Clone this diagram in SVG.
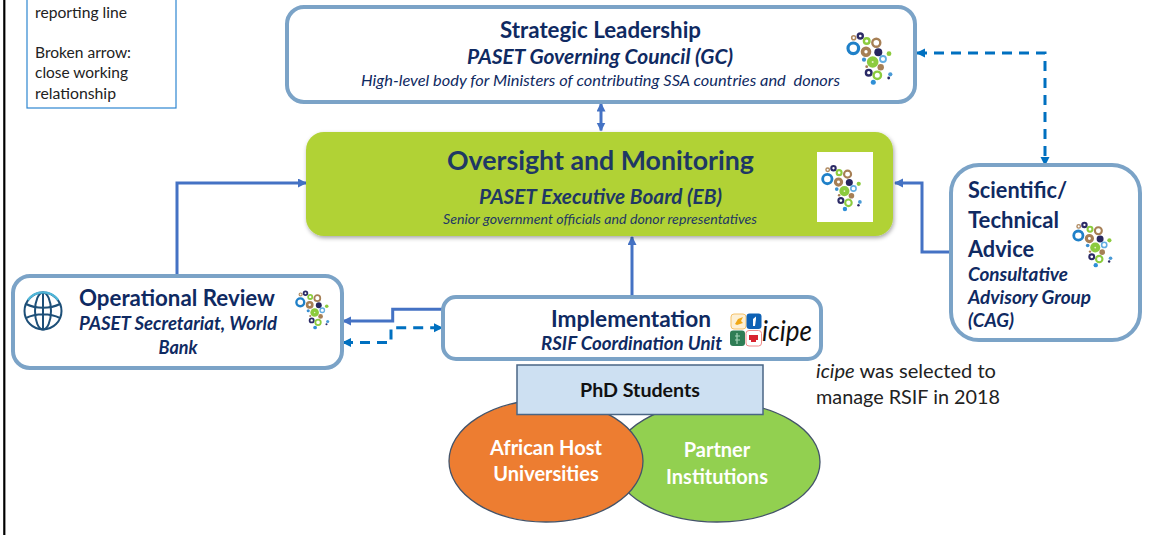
<svg xmlns="http://www.w3.org/2000/svg" xmlns:xlink="http://www.w3.org/1999/xlink" width="1149" height="535" viewBox="0 0 1149 535">
<style>
text{font-family:"Lato","Carlito","Liberation Sans",sans-serif}
.box{fill:#fff;stroke:#7ba3c7;stroke-width:4}
.n{fill:#0f2a62}
.e{fill:#1f3864}
.b{font-weight:700}
.i{font-style:italic}
.m{text-anchor:middle}
.k{fill:#222}
.w{fill:#fff;font-weight:700;text-anchor:middle;font-size:20px}
.s{fill:none;stroke:#4472c4;stroke-width:3}
.d{fill:none;stroke:#0070c0;stroke-width:3;stroke-dasharray:10 7}
.o{stroke:#44546a;stroke-width:1.300}
</style>
<defs>
<marker id="as" markerWidth="11" markerHeight="11" refX="8" refY="4.500" orient="auto-start-reverse" markerUnits="userSpaceOnUse"><path d="M0 0L9 4.500L0 9Z" fill="#4472c4"/></marker>
<marker id="ad" markerWidth="11" markerHeight="11" refX="8" refY="4.500" orient="auto-start-reverse" markerUnits="userSpaceOnUse"><path d="M0 0L9 4.500L0 9Z" fill="#0070c0"/></marker>
<filter id="sh" x="-5%" y="-5%" width="110%" height="115%"><feDropShadow dx="1" dy="2" stdDeviation="2" flood-color="#000" flood-opacity=".35"/></filter>
<g id="logo">
<circle cx="7.300" cy="15.300" r="5.300" fill="none" stroke="#1f80c8" stroke-width="3.200"/>
<circle cx="7.700" cy="4.700" r="2" fill="none" stroke="#b08a60" stroke-width="1.600"/>
<circle cx="14.300" cy="3" r="2.500" fill="none" stroke="#2b2a66" stroke-width="2.400"/>
<circle cx="20.700" cy="8" r="2.800" fill="none" stroke="#8ccb3e" stroke-width="2.400"/>
<circle cx="30.300" cy="9.700" r="4" fill="none" stroke="#a67f55" stroke-width="2.400"/>
<circle cx="20" cy="18.700" r="3.500" fill="none" stroke="#a67f55" stroke-width="3.600"/>
<circle cx="32.300" cy="19.300" r="4" fill="#26265f"/>
<circle cx="43" cy="20.700" r="2.400" fill="#8ccb3e"/>
<circle cx="18" cy="26.700" r="2.100" fill="#3b8fd0"/>
<circle cx="26.700" cy="29" r="5.800" fill="#8ccb3e"/>
<circle cx="26.700" cy="29" r="1" fill="#e4f2c8"/>
<circle cx="37" cy="26" r="3" fill="none" stroke="#62ade2" stroke-width="1.800"/>
<circle cx="20.700" cy="33.700" r="1.400" fill="#a67f55"/>
<circle cx="34.700" cy="34.300" r="3.200" fill="#a67f55"/>
<circle cx="22.700" cy="39.700" r="2.800" fill="none" stroke="#2b2a66" stroke-width="2.400"/>
<circle cx="31.300" cy="42.300" r="3.700" fill="none" stroke="#8ccb3e" stroke-width="2.400"/>
<circle cx="44.300" cy="41.300" r="2.100" fill="#4a9ad6"/>
<circle cx="42.700" cy="45" r="1.400" fill="#2b2a66"/>
<circle cx="27.300" cy="49.300" r="2.500" fill="#2f8fd6"/>
</g>
</defs>

<rect width="1149" height="535" fill="#fff"/>
<path d="M4.300 0V535" stroke="#000" stroke-width="2.200"/>

<g id="legend">
<rect x="27" y="-5" width="149" height="113" fill="#fff" stroke="#2e86d0" stroke-width="1.200"/>
<text class="k" x="35" y="18" font-size="15.500" textLength="92" lengthAdjust="spacingAndGlyphs">reporting line</text>
<text class="k" x="35" y="58" font-size="15.500" textLength="96" lengthAdjust="spacingAndGlyphs">Broken arrow:</text>
<text class="k" x="35" y="78" font-size="15.500" textLength="93" lengthAdjust="spacingAndGlyphs">close working</text>
<text class="k" x="35" y="99" font-size="15.500" textLength="81" lengthAdjust="spacingAndGlyphs">relationship</text>
</g>

<g id="connectors">
<path class="s" d="M601 103.500V130.500" marker-start="url(#as)" marker-end="url(#as)"/>
<path class="s" d="M177 275V183H306" marker-end="url(#as)"/>
<path class="s" d="M632 296V237" marker-end="url(#as)"/>
<path class="s" d="M951 252H922V183H895" marker-end="url(#as)"/>
<path class="s" d="M443 309.300H392.700V321H343" marker-end="url(#as)"/>
<path class="d" d="M917 53H1045V165" marker-start="url(#ad)" marker-end="url(#ad)"/>
<path class="d" d="M343 342.500H391V327.700H442" marker-start="url(#ad)" marker-end="url(#ad)"/>
</g>

<g id="node-gc">
<rect class="box" x="287" y="7" width="628" height="95" rx="17"/>
<text class="n b m" x="600.500" y="38" font-size="22.500" textLength="201" lengthAdjust="spacingAndGlyphs">Strategic Leadership</text>
<text class="n b i m" x="600" y="64" font-size="20.500" textLength="266" lengthAdjust="spacingAndGlyphs">PASET Governing Council (GC)</text>
<text class="n i m" x="600.500" y="86" font-size="16" textLength="479" lengthAdjust="spacingAndGlyphs" xml:space="preserve">High-level body for Ministers of contributing SSA countries and  donors</text>
<use href="#logo" xlink:href="#logo" x="846" y="33"/>
</g>

<g id="node-eb">
<rect x="306" y="132" width="587" height="104" rx="18" fill="#b1d235" filter="url(#sh)"/>
<text class="e b m" x="600.500" y="170" font-size="26.800" textLength="307" lengthAdjust="spacingAndGlyphs">Oversight and Monitoring</text>
<text class="e b i m" x="600.500" y="204" font-size="20.500" textLength="243" lengthAdjust="spacingAndGlyphs">PASET Executive Board (EB)</text>
<text class="e i m" x="600" y="224" font-size="14" textLength="314" lengthAdjust="spacingAndGlyphs">Senior government officials and donor representatives</text>
<rect x="817" y="152" width="56" height="70" fill="#fff"/>
<use href="#logo" xlink:href="#logo" transform="translate(820.900 165.600) scale(.88)"/>
</g>

<g id="node-cag">
<rect class="box" x="951" y="165" width="189" height="175" rx="28"/>
<text class="n b" x="968" y="198" font-size="22.500" textLength="99" lengthAdjust="spacingAndGlyphs">Scientific/</text>
<text class="n b" x="968" y="228" font-size="22.500" textLength="91" lengthAdjust="spacingAndGlyphs">Technical</text>
<text class="n b" x="968" y="257" font-size="22.500" textLength="66" lengthAdjust="spacingAndGlyphs">Advice</text>
<text class="n b i" x="968" y="281" font-size="18.500" textLength="100" lengthAdjust="spacingAndGlyphs">Consultative</text>
<text class="n b i" x="968" y="304" font-size="18.500" textLength="123" lengthAdjust="spacingAndGlyphs">Advisory Group</text>
<text class="n b i" x="968" y="327" font-size="18.500" textLength="46" lengthAdjust="spacingAndGlyphs">(CAG)</text>
<use href="#logo" xlink:href="#logo" transform="translate(1072 222.300) scale(.87)"/>
</g>

<g id="node-secretariat">
<rect class="box" x="13" y="276" width="329" height="92" rx="17"/>
<text class="n b m" x="177" y="306" font-size="22" textLength="196" lengthAdjust="spacingAndGlyphs">Operational Review</text>
<text class="n b i m" x="178" y="330" font-size="18.500" textLength="198" lengthAdjust="spacingAndGlyphs">PASET Secretariat, World</text>
<text class="n b i m" x="178" y="354" font-size="18.500" textLength="39" lengthAdjust="spacingAndGlyphs">Bank</text>
<use href="#logo" xlink:href="#logo" transform="translate(294.900 291) scale(.74)"/>
<g fill="none" stroke="#1d4f78" stroke-width="2">
<circle cx="43" cy="311" r="18.500"/>
<ellipse cx="43" cy="311" rx="8" ry="18.500"/>
<path d="M43 292.500V329.500M26 304C36 309 50 309 60 304M26 318C36 313 50 313 60 318"/>
</g>
<path d="M28 300A18.500 18.500 0 0 1 58 300" fill="none" stroke="#4fb6d8" stroke-width="2.400"/>
</g>

<g id="node-rsif">
<rect class="box" x="443" y="297" width="378" height="62" rx="13"/>
<text class="n b m" x="631" y="327" font-size="22.500" textLength="160" lengthAdjust="spacingAndGlyphs">Implementation</text>
<text class="n b i m" x="631.500" y="350" font-size="18.500" textLength="181" lengthAdjust="spacingAndGlyphs">RSIF Coordination Unit</text>
<rect x="731" y="314" width="15" height="15" rx="3" fill="#fdf0d5" stroke="#f5c26b"/>
<path d="M735 324L738 319L743 317L741 321L743 323L737 325Z" fill="#f0a818"/>
<rect x="746.500" y="313.500" width="15" height="15.500" rx="3" fill="#0f62b5"/>
<path d="M753 326V319L756 316.500V319L755 326Z" fill="#fff"/>
<rect x="730" y="330.500" width="15" height="15.500" rx="3" fill="#2f7d55"/>
<path d="M737 333V344M735 336H740M735 340H740" stroke="#a5d4b8" stroke-width="1.200" fill="none"/>
<rect x="746" y="330.500" width="15.500" height="15.500" rx="3" fill="#fff" stroke="#f08a8a"/>
<path d="M749 335H758V340H756V342H751V340H749Z" fill="#d8232f"/>
<text x="762" y="341" font-size="28" class="i" fill="#111" textLength="50" lengthAdjust="spacingAndGlyphs">icipe</text>
</g>

<g id="node-partners">
<ellipse class="o" cx="717" cy="462" rx="103" ry="60" fill="#92d050"/>
<text class="w" x="717" y="457">Partner</text>
<text class="w" x="717" y="484">Institutions</text>
</g>
<g id="node-universities">
<ellipse class="o" cx="546" cy="461" rx="97" ry="61" fill="#ed7d31"/>
<text class="w" x="546" y="455">African Host</text>
<text class="w" x="546" y="481">Universities</text>
</g>
<g id="node-phd">
<rect x="517" y="365" width="246" height="49.500" fill="#cde0f2" stroke="#4a6685" stroke-width="1.500"/>
<text class="b m" x="640" y="397" font-size="19" fill="#111" textLength="120" lengthAdjust="spacingAndGlyphs">PhD Students</text>
</g>
<g id="note">
<text class="k" x="816" y="378" font-size="19.500" textLength="180" lengthAdjust="spacingAndGlyphs"><tspan class="i">icipe</tspan> was selected to</text>
<text class="k" x="816" y="404" font-size="19.500" textLength="184" lengthAdjust="spacingAndGlyphs">manage RSIF in 2018</text>
</g>
</svg>
